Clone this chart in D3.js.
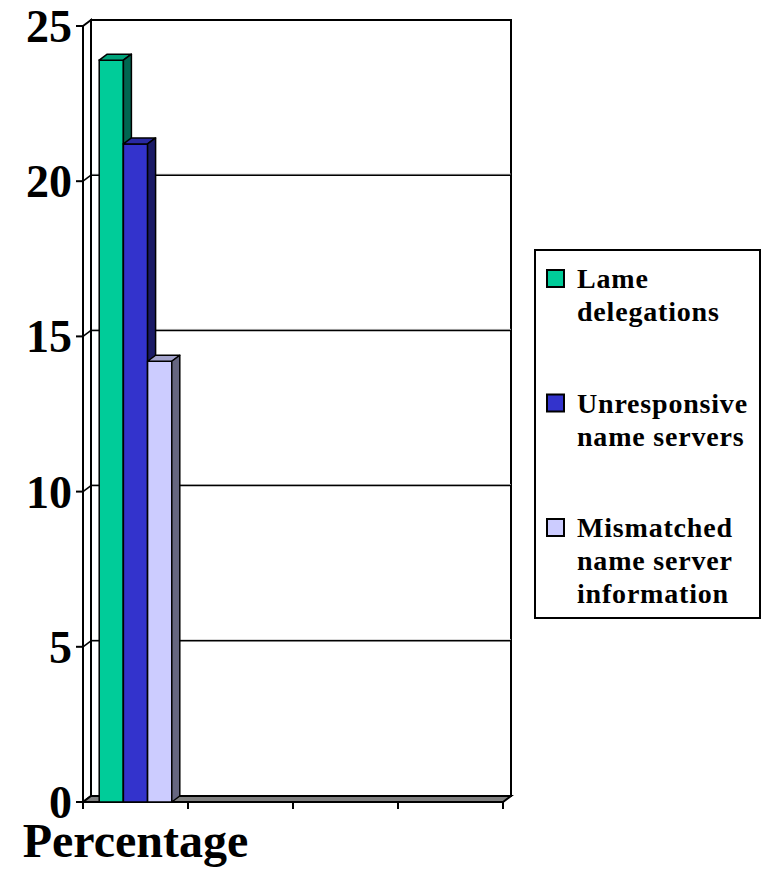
<!DOCTYPE html>
<html>
<head>
<meta charset="utf-8">
<script src="https://cdn.jsdelivr.net/npm/d3@7"></script>
<style>
  body { margin: 0; background: #fff; }
  svg { display: block; }
  text { font-family: "Liberation Serif", "Times New Roman", serif; font-weight: bold; }
</style>
</head>
<body>
<svg id="chart" width="761" height="872"></svg>
<script>
// data
const categories = ["Percentage", "", "", ""];
const seriesNames = ["Lame delegations", "Unresponsive name servers", "Mismatched name server information"];
const legendLines = [["Lame", "delegations"], ["Unresponsive", "name servers"], ["Mismatched", "name server", "information"]];
const values = [[23.9, null, null, null], [21.2, null, null, null], [14.2, null, null, null]];
const yTicks = [0, 5, 10, 15, 20, 25];

const frontColors = ["#00CC99", "#3333CC", "#CCCCFF"];
const topColors = ["#00A37A", "#2929A3", "#A3A3CC"];
const sideColors = ["#006650", "#1A1A66", "#666680"];

const svg = d3.select("#chart");

// 3d depth offset
const dx = 8, dy = -6;

const yScale = d3.scaleLinear().domain([0, 25]).range([802, 26]);
const xScale = d3.scaleBand().domain(d3.range(categories.length)).range([83, 503]);
const innerScale = d3.scaleBand().domain(d3.range(seriesNames.length))
    .range([0, xScale.bandwidth()]).paddingOuter(0.67);

const x0 = xScale.range()[0], x1 = xScale.range()[1];
const y0 = yScale(0), yTop = yScale(25);

function pts(arr) { return arr.map(p => p.join(",")).join(" "); }

// back wall
svg.append("rect")
    .attr("x", x0 + dx).attr("y", yTop + dy)
    .attr("width", x1 - x0).attr("height", y0 - yTop)
    .attr("fill", "#fff").attr("stroke", "#000").attr("stroke-width", 2);

// gridlines on back wall + side wall
yTicks.filter(t => t > 0 && t < 25).forEach(t => {
    let y = yScale(t);
    svg.append("line")
        .attr("x1", x0 + dx).attr("x2", x1 + dx)
        .attr("y1", y + dy - 1).attr("y2", y + dy - 1)
        .attr("stroke", "#c8c8c8").attr("stroke-width", 1);
    svg.append("line")
        .attr("x1", x0 + dx).attr("x2", x1 + dx)
        .attr("y1", y + dy).attr("y2", y + dy)
        .attr("stroke", "#000").attr("stroke-width", 1.5);
    svg.append("line")
        .attr("x1", x0).attr("x2", x0 + dx)
        .attr("y1", y).attr("y2", y + dy)
        .attr("stroke", "#000").attr("stroke-width", 1.5);
});

// left wall
svg.append("polygon")
    .attr("points", pts([[x0, yTop], [x0 + dx, yTop + dy], [x0 + dx, y0 + dy], [x0, y0]]))
    .attr("fill", "none").attr("stroke", "#000").attr("stroke-width", 2);

// floor
svg.append("polygon")
    .attr("points", pts([[x0, y0], [x0 + dx, y0 + dy], [x1 + dx, y0 + dy], [x1, y0]]))
    .attr("fill", "#808080").attr("stroke", "#000").attr("stroke-width", 2);

// y axis ticks and labels
yTicks.forEach(t => {
    let y = yScale(t);
    svg.append("line")
        .attr("x1", x0 - 7).attr("x2", x0)
        .attr("y1", y).attr("y2", y)
        .attr("stroke", "#000").attr("stroke-width", 2);
    svg.append("text")
        .attr("x", 72).attr("y", y + 16)
        .attr("text-anchor", "end")
        .attr("font-size", 46)
        .text(t);
});

// x axis ticks
d3.range(categories.length + 1).forEach(i => {
    let x = i < categories.length ? xScale(i) : x1;
    svg.append("line")
        .attr("x1", x).attr("x2", x)
        .attr("y1", y0).attr("y2", y0 + 7)
        .attr("stroke", "#000").attr("stroke-width", 2);
});

// category labels
categories.forEach((c, i) => {
    svg.append("text")
        .attr("x", xScale(i) + xScale.bandwidth() / 2)
        .attr("y", 857)
        .attr("text-anchor", "middle")
        .attr("font-size", 48)
        .text(c);
});

// bars
categories.forEach((c, ci) => {
    seriesNames.forEach((s, si) => {
        let v = values[si][ci];
        if (v == null) return;
        let bx = xScale(ci) + innerScale(si);
        let bw = innerScale.bandwidth();
        let by = yScale(v);
        let g = svg.append("g");
        g.append("rect")
            .attr("x", bx).attr("y", by)
            .attr("width", bw).attr("height", y0 - by)
            .attr("fill", frontColors[si]).attr("stroke", "#000").attr("stroke-width", 1.5);
        g.append("polygon")
            .attr("points", pts([[bx, by], [bx + dx, by + dy], [bx + bw + dx, by + dy], [bx + bw, by]]))
            .attr("fill", topColors[si]).attr("stroke", "#000").attr("stroke-width", 1.5)
            .attr("stroke-linejoin", "round");
        g.append("polygon")
            .attr("points", pts([[bx + bw, by], [bx + bw + dx, by + dy], [bx + bw + dx, y0 + dy], [bx + bw, y0]]))
            .attr("fill", sideColors[si]).attr("stroke", "#000").attr("stroke-width", 1.5)
            .attr("stroke-linejoin", "round");
    });
});

// front axis line
svg.append("line")
    .attr("x1", x0).attr("x2", x0)
    .attr("y1", yTop).attr("y2", y0)
    .attr("stroke", "#000").attr("stroke-width", 2);

// legend
const legend = svg.append("g");
legend.append("rect")
    .attr("x", 535).attr("y", 250)
    .attr("width", 225).attr("height", 368)
    .attr("fill", "#fff").attr("stroke", "#000").attr("stroke-width", 2);

legendLines.forEach((lines, i) => {
    let base = 288 + i * 124.5;
    legend.append("rect")
        .attr("x", 547).attr("y", base - 18)
        .attr("width", 17).attr("height", 17)
        .attr("fill", frontColors[i]).attr("stroke", "#000").attr("stroke-width", 2);
    lines.forEach((line, j) => {
        legend.append("text")
            .attr("x", 577).attr("y", base + j * 33)
            .attr("font-size", 28)
            .attr("letter-spacing", 0.8)
            .text(line);
    });
});
</script>
</body>
</html>
